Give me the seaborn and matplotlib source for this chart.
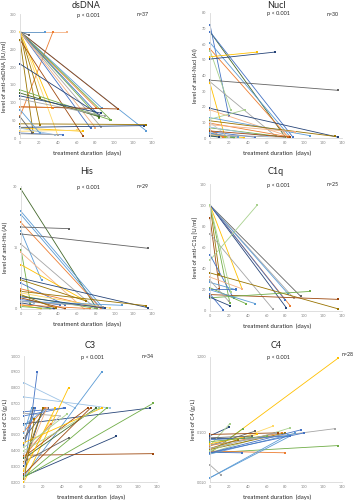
import numpy as np
import pandas as pd
import matplotlib
matplotlib.use("Agg")
import matplotlib.pyplot as plt
import seaborn as sns
from matplotlib.ticker import FixedLocator, FixedFormatter

sns.set_style("white")
plt.rcParams['font.family'] = ['Lato', 'DejaVu Sans']

# Excel-like colours, by letter
office = {'B': '#4472C4', 'O': '#ED7D31', 'G': '#A5A5A5', 'Y': '#FFC000', 'L': '#5B9BD5',
          'E': '#70AD47', 'D': '#264478', 'R': '#9E480E', 'K': '#636363', 'V': '#997300',
          'N': '#43682B', 'o': '#F4B183', 'y': '#FFD966', 'e': '#A9D18E', 'l': '#9DC3E6',
          'g': '#C9C9C9'}

# ---------------- data: baseline (day 0), follow-up day, follow-up value ----------------
dsdna_base = [300, 300, 61, 300, 300, 300, 300, 300, 300, 300, 300, 300, 300, 300, 300, 300,
              300, 300, 300, 277, 277, 209, 136, 127, 119, 110, 88, 88, 40, 30, 28, 19, 14,
              28, 12, 80, 60]
dsdna_days = [50, 27, 35, 10, 11, 134, 104, 87, 81, 96, 84, 83, 86, 75, 80, 21,
              21, 34, 40, 67, 14, 84, 95, 84, 86, 90, 104, 35, 134, 132, 67, 60, 46,
              37, 40, 21, 13]
dsdna_follow = [300, 300, 300, 290, 270, 20, 82, 84, 85, 52, 56, 66, 31, 27, 29, 113,
                38, 85, 8, 5, 14, 66, 52, 60, 70, 62, 82, 86, 38, 35, 19, 22, 9,
                9, 9, 14, 15]
dsdna_colors = "oLOKDLRLOEEBGBoVVYyRVDENDGROVDYyBlGLK"

nucl_base = [72.5, 68, 68, 61, 57, 56, 50.5, 52, 37, 36, 35, 19, 18, 13, 12, 11, 9.5,
             8.5, 6.5, 4, 3, 2, 1, 5, 3, 2, 1.5, 7, 10, 4.5]
nucl_days = [20, 80, 88, 85, 83, 22, 69, 50, 136, 70, 16, 136, 84, 106, 37, 133, 83,
             90, 80, 48, 25, 36, 25, 14, 30, 78, 10, 60, 20, 85]
nucl_follow = [14, 0.5, 0.5, 0.8, 0.5, 18, 55, 55, 30.5, 1, 0.5, 0.5, 1, 1.5, 18, 1, 0.8,
               4, 0.5, 0.5, 0.3, 0.3, 0.3, 0.5, 0.5, 0.5, 0.5, 1, 0.5, 0.5]
nucl_colors = "BNBLOeDYKGYDoLeVOoEBDYEOLGDlgR"

his_base = [29.2, 23.8, 23, 21.1, 20, 19, 18.3, 15.8, 14.5, 13.8, 10.8, 7.5, 7.1, 6.3,
            4.9, 4.3, 3.9, 3.2, 2.3, 1.9, 1.5, 1, 0.6, 2, 1.8, 2.7, 1, 3, 3.5]
his_days = [81, 88, 85, 85, 51, 22, 136, 79, 10, 67, 69, 136, 69, 47,
            85, 134, 95, 81, 42, 108, 35, 21, 31, 14, 88, 47, 74, 90, 37]
his_follow = [0.1, 0.2, 0.3, 0.2, 19.6, 7, 14.8, 0.3, 1.5, 0.1, 2, 0.3, 2, 1,
              0.2, 0.8, 0.2, 0.1, 1, 0.9, 0.1, 0.1, 0.1, 1.5, 0.6, 0.1, 0.1, 0.2, 0.2]
his_colors = "NLLOKLKGEoYDVBOVyEBLDYElGRODV"

c1q_base = [100, 100, 100, 100, 100, 100, 100, 100, 100, 88, 73, 48, 53, 36, 32, 27,
            22, 20.5, 15.5, 12.5, 16, 13, 20, 29, 100]
c1q_days = [96, 89, 83, 85, 81, 80, 34, 21, 10, 10, 67, 50, 25, 136, 34, 28,
            38, 28, 136, 106, 14, 21, 48, 20, 22]
c1q_follow = [14, 12, 16, 5, 3, 10, 21, 8, 35, 21, 1.5, 100, 12, 2, 21, 20,
              7, 20.5, 11, 18.5, 1, 5, 7, 9, 18]
c1q_colors = "KGLODBYEVRGeBVoLEBREBDLGe"

c3_base = [0.246, 0.83, 0.74, 0.646, 0.636, 0.57, 0.236, 0.20, 0.236, 0.37, 0.23, 0.23,
           0.36, 0.33, 0.38, 0.44, 0.43, 0.52, 0.48, 0.30, 0.28, 0.36, 0.33, 0.56,
           0.62, 0.35, 0.45, 0.40, 0.32, 0.27, 0.51, 0.22, 0.42, 0.25]
c3_days = [14, 54, 90, 43, 38, 133, 82, 47, 97, 136, 136, 87,
           67, 47, 38, 10, 12, 22, 25, 20, 30, 28, 20, 24,
           42, 76, 82, 79, 24, 33, 8, 11, 45, 70]
c3_follow = [0.90, 0.67, 0.67, 0.67, 0.62, 0.67, 0.90, 0.80, 0.49, 0.38, 0.70, 0.67,
             0.67, 0.48, 0.62, 0.67, 0.67, 0.67, 0.67, 0.67, 0.62, 0.57, 0.67, 0.67,
             0.67, 0.67, 0.67, 0.67, 0.67, 0.67, 0.67, 0.60, 0.63, 0.67]
c3_colors = "BllBGDLYDREERKgKBOKDyOVLBNYeoYLVeR"

c4_base = [0.052, 0.091, 0.085, 0.066, 0.052, 0.066, 0.058, 0.052, 0.066, 0.058, 0.052,
           0.068, 0.052, 0.055, 0.053, 0.023, 0.023, 0.035, 0.095, 0.08, 0.07, 0.06,
           0.075, 0.05, 0.085, 0.055, 0.06, 0.052]
c4_days = [136, 20, 36, 21, 35, 48, 67, 85, 76, 80, 96,
           133, 136, 80, 34, 83, 85, 12, 72, 85, 50, 30,
           60, 90, 45, 20, 70, 100]
c4_follow = [1.16, 0.12, 0.085, 0.135, 0.115, 0.106, 0.125, 0.118, 0.10, 0.10, 0.11,
             0.115, 0.066, 0.052, 0.052, 0.094, 0.09, 0.025, 0.10, 0.09, 0.095, 0.08,
             0.09, 0.098, 0.09, 0.07, 0.1, 0.1]
c4_colors = "YDDeEKyeOVBGEOBLLGRBYVELKeGB"

panels = [
    ("dsDNA", "level of anti-dsDNA [IU/ml]", dsdna_base, dsdna_days, dsdna_follow, dsdna_colors,
     "n=37", np.arange(0, 351, 50), (0, 350), "{:.0f}"),
    ("Nucl", "level of anti-Nucl (AI)", nucl_base, nucl_days, nucl_follow, nucl_colors,
     "n=30", np.arange(0, 81, 10), (0, 80), "{:.0f}"),
    ("His", "level of anti-His (AI)", his_base, his_days, his_follow, his_colors,
     "n=29", [0, 15, 30], (0, 30), "{:.0f}"),
    ("C1q", "level of anti-C1q [U/ml]", c1q_base, c1q_days, c1q_follow, c1q_colors,
     "n=25", np.arange(0, 121, 20), (0, 120), "{:.0f}"),
    ("C3", "level of C3 (g/L)", c3_base, c3_days, c3_follow, c3_colors,
     "n=34", np.round(np.arange(0.2, 1.001, 0.1), 1), (0.2, 1.0), "{:.3f}"),
    ("C4", "level of C4 (g/L)", c4_base, c4_days, c4_follow, c4_colors,
     "n=28", [0.02, 0.1, 1.2], (0.02, 1.2), "{:.3f}"),
]

# axes boxes in pixels: left, right, top, bottom (y from top)
boxes = [(20, 152, 14, 138), (210, 342, 13, 138),
         (21, 152, 186, 309), (210, 342, 184, 311),
         (24, 157, 356, 482), (210, 342, 357, 482)]
title_y = [5, 5, 172, 171, 346, 346]
ylab_x = [5, 195, 5, 195, 5, 193]
W, H = 355, 500

fig = plt.figure(figsize=(W / 100, H / 100), dpi=100)

for i, (name, ylab, base, days, follow, cols, ntext, yt, ylim, fmt) in enumerate(panels):
    l, r, t, b = boxes[i]
    ax = fig.add_axes([l / W, 1 - b / H, (r - l) / W, (b - t) / H])

    rows = []
    for k in range(len(base)):
        rows.append({"id": k, "day": 0, "value": base[k]})
        rows.append({"id": k, "day": days[k], "value": follow[k]})
    df = pd.DataFrame(rows)
    pal = [office[c] for c in cols]

    sns.lineplot(data=df, x="day", y="value", hue="id", palette=pal, units="id",
                 estimator=None, sort=False, marker="s", markersize=1.6,
                 markeredgewidth=0, linewidth=0.6, legend=False, ax=ax, clip_on=False)

    if name == "C4":
        ax.set_yscale("log")
    ax.set_xlim(0, 140)
    ax.set_ylim(*ylim)
    ax.xaxis.set_major_locator(FixedLocator(np.arange(0, 141, 20)))
    ax.yaxis.set_major_locator(FixedLocator(yt))
    ax.yaxis.set_major_formatter(FixedFormatter([fmt.format(v) for v in yt]))
    ax.yaxis.set_minor_locator(FixedLocator([]))
    ax.tick_params(axis="both", length=0, labelsize=2.7, labelcolor="#7f7f7f", pad=2.5)
    ax.set_xlabel("")
    ax.set_ylabel("")
    for s in ["top", "right"]:
        ax.spines[s].set_visible(False)
    for s in ["left", "bottom"]:
        ax.spines[s].set_color("#d9d9d9")
        ax.spines[s].set_linewidth(0.6)

    cx = (l + r) / 2
    fig.text(cx / W, 1 - title_y[i] / H, name, ha="center", va="center",
             fontsize=6.5, color="#262626")
    fig.text((cx + 2) / W, 1 - (t + 1) / H, "p < 0.001", ha="center", va="center",
             fontsize=4, color="#262626")
    nx = r - 9 if name != "C4" else r + 6
    ny = t + 1 if name != "C4" else t - 2
    fig.text(nx / W, 1 - ny / H, ntext, ha="center", va="center",
             fontsize=3.8, color="#262626")
    fig.text((cx + 1) / W, 1 - (b + 15) / H, "treatment duration  (days)",
             ha="center", va="center", fontsize=4.3, color="#262626")
    fig.text(ylab_x[i] / W, 1 - ((t + b) / 2) / H, ylab, ha="center", va="center",
             rotation=90, fontsize=4.2, color="#262626")

fig.savefig("out.png", dpi=100, facecolor="white")
